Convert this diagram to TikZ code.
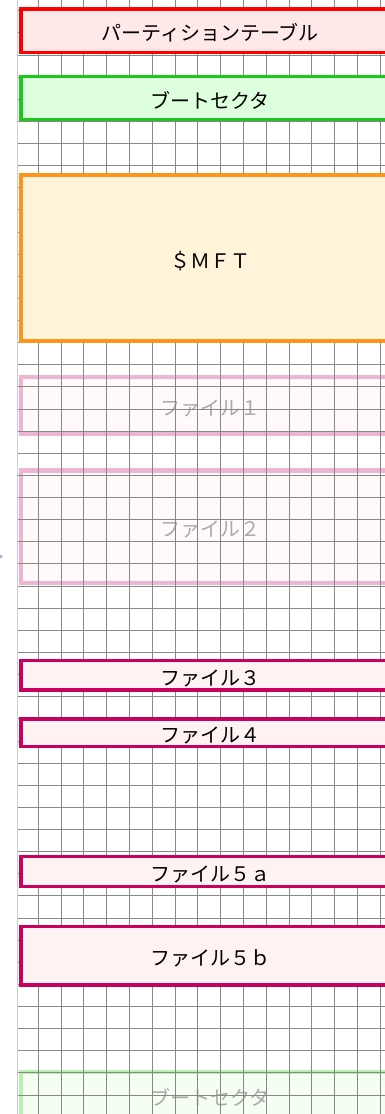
\documentclass[tikz,border=0pt]{standalone}
\usepackage{fontspec}
\setmainfont{Noto Sans CJK JP}
\usepackage{xcolor}

\definecolor{ptred}{HTML}{FF0000}
\definecolor{ptfill}{HTML}{FFE8E8}
\definecolor{bsgreen}{HTML}{1CC81C}
\definecolor{bsfill}{HTML}{DDFFDD}
\definecolor{mftorange}{HTML}{FF9419}
\definecolor{mftfill}{HTML}{FFF3D9}
\definecolor{filered}{HTML}{C80060}
\definecolor{filefill}{HTML}{FFF2F2}
\definecolor{ghostpink}{HTML}{EEB4D4}
\definecolor{ghostpinkfill}{HTML}{FFFAF9}
\definecolor{ghostgreen}{HTML}{B8F0B0}
\definecolor{ghostgreenfill}{HTML}{F4FFF2}
\definecolor{ghosttext}{HTML}{AAAAAA}
\definecolor{gridgray}{HTML}{888888}
\definecolor{edgegray}{HTML}{CCCCCC}
\definecolor{tipgray}{HTML}{A8B4D0}

\begin{document}
\begin{tikzpicture}[
    x=1pt, y=-1pt,
    part/.style={rectangle, draw, line width=3.5pt, minimum width=378pt,
                 inner sep=0pt, text height=20pt, text depth=0pt,
                 align=center, font=\fontsize{20}{24}\selectfont},
    ghost/.style={part, line width=4.5pt, text=ghosttext},
    gridline/.style={draw=gridgray, line width=1pt}
]

% --- Page ---
\useasboundingbox (0,0) rectangle (385,1114);
\clip (0,0) rectangle (385,1114);
\fill[white] (0,0) rectangle (385,1114);

% --- Columns and rows of the box stack ---
\def\cx{210}   % box centre (boxes run out past the right edge)

% --- Faded boxes (grid shows over them) ---
\node[ghost, draw=ghostpink, fill=ghostpinkfill, minimum height=57pt]    (file1)   at (\cx, 405.5)  {ファイル１};
\node[ghost, draw=ghostpink, fill=ghostpinkfill, minimum height=112.5pt] (file2)   at (\cx, 526.75) {ファイル２};
\node[ghost, draw=ghostgreen, fill=ghostgreenfill, minimum height=46pt]  (bootbak) at (\cx, 1095)   {ブートセクタ};

% --- Grid ---
\foreach \k in {0,...,15}
    \draw[gridline] ({38.3+22.8*\k}, 0) -- ({38.3+22.8*\k}, 1114);
\foreach \k in {-3,...,47}
    \draw[gridline] (17.5, {55+22.13*\k}) -- (385, {55+22.13*\k});
\draw[edgegray, line width=1.5pt] (17.5, 0) -- (17.5, 1114);

% --- Solid boxes ---
\node[part, draw=ptred, fill=ptfill, minimum height=43.5pt]          (ptable) at (\cx, 30.75)  {パーティションテーブル};
\node[part, draw=bsgreen, fill=bsfill, minimum height=43pt]          (boot)   at (\cx, 98.2)   {ブートセクタ};
\node[part, draw=mftorange, fill=mftfill, minimum height=166pt]      (mft)    at (\cx, 258)    {＄ＭＦＴ};
\node[part, draw=filered, fill=filefill, minimum height=29.3pt]      (file3)  at (\cx, 675.35) {ファイル３};
\node[part, draw=filered, fill=filefill, minimum height=27.5pt]      (file4)  at (\cx, 732.75) {ファイル４};
\node[part, draw=filered, fill=filefill, minimum height=30pt]        (file5a) at (\cx, 871.7)  {ファイル５ａ};
\node[part, draw=filered, fill=filefill, minimum height=58.3pt]      (file5b) at (\cx, 955.85) {ファイル５ｂ};

% --- Stray arrow tip at the left edge ---
\fill[tipgray] (-3, 552) -- (3, 556.5) -- (-3, 561) -- cycle;

\end{tikzpicture}
\end{document}
